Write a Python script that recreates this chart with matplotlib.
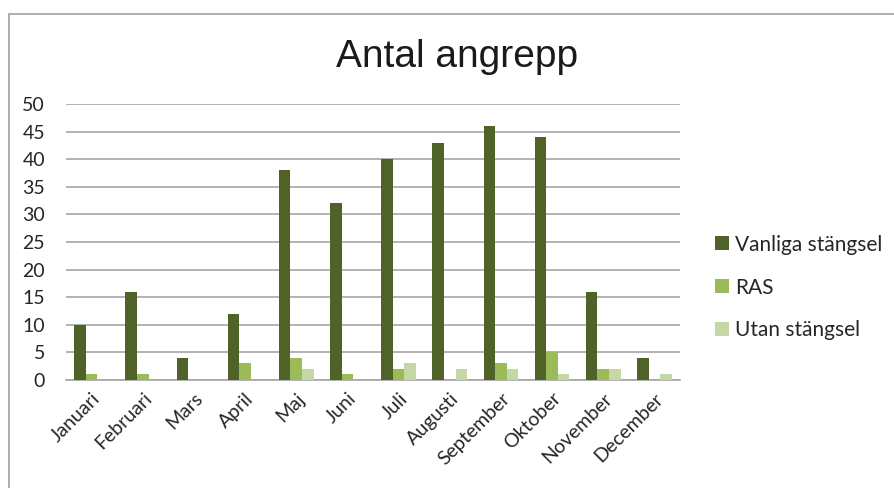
import matplotlib.pyplot as plt
import numpy as np
from matplotlib.patches import Rectangle

months = ['Januari', 'Februari', 'Mars', 'April', 'Maj', 'Juni', 'Juli',
          'Augusti', 'September', 'Oktober', 'November', 'December']
vanliga = [10, 16, 4, 12, 38, 32, 40, 43, 46, 44, 16, 4]
ras = [1, 1, 0, 3, 4, 1, 2, 0, 3, 5, 2, 0]
utan = [0, 0, 0, 0, 2, 0, 3, 2, 2, 1, 2, 1]
series = [('Vanliga stängsel', vanliga, '#4F6228'),
          ('RAS', ras, '#9BBB59'),
          ('Utan stängsel', utan, '#C4D7A4')]

plt.rcParams['font.family'] = ['Lato', 'DejaVu Sans']

fig = plt.figure(figsize=(8.94, 4.88), dpi=100)
ax = fig.add_axes([66 / 894, 1 - 380 / 488, 614 / 894, 276 / 488])

# outer chart frame
fig.patches.append(Rectangle((9 / 894, -0.1), 1.2, 1 - 14 / 488 + 0.1,
                             transform=fig.transFigure, fill=False,
                             edgecolor='#A0A0A0', linewidth=1.2))

x = np.arange(len(months))
w = 0.225
for i, (name, vals, col) in enumerate(series):
    ax.bar(x + (i - 1) * w, vals, w, color=col, label=name, zorder=3)

ax.set_xlim(-0.5, len(months) - 0.5)
ax.set_ylim(0, 50)
ax.set_yticks(range(0, 51, 5))
ax.yaxis.grid(True, color='#A6A6A6', linewidth=1.2, zorder=0)
for s in ['left', 'right', 'top']:
    ax.spines[s].set_visible(False)
ax.spines['bottom'].set_color('#A6A6A6')
ax.spines['bottom'].set_linewidth(1.2)
ax.tick_params(axis='both', length=0, labelsize=14, colors='#262626')
ax.tick_params(axis='y', pad=15)
ax.set_xticks(x)
ax.set_xticklabels(months, rotation=45, ha='right', rotation_mode='anchor')
ax.tick_params(axis='x', pad=7)

fig.text(0.511, 1 - 57 / 488, 'Antal angrepp', ha='center', va='center',
         fontsize=28, family='Liberation Sans', color='#1A1A1A')

ax.legend(loc='center left', bbox_to_anchor=(1.027, 0.335), frameon=False,
          fontsize=15, handlelength=0.65, handleheight=0.65,
          handletextpad=0.3, labelspacing=1.1, labelcolor='#262626')

plt.savefig('out.png')
plt.close('all')
